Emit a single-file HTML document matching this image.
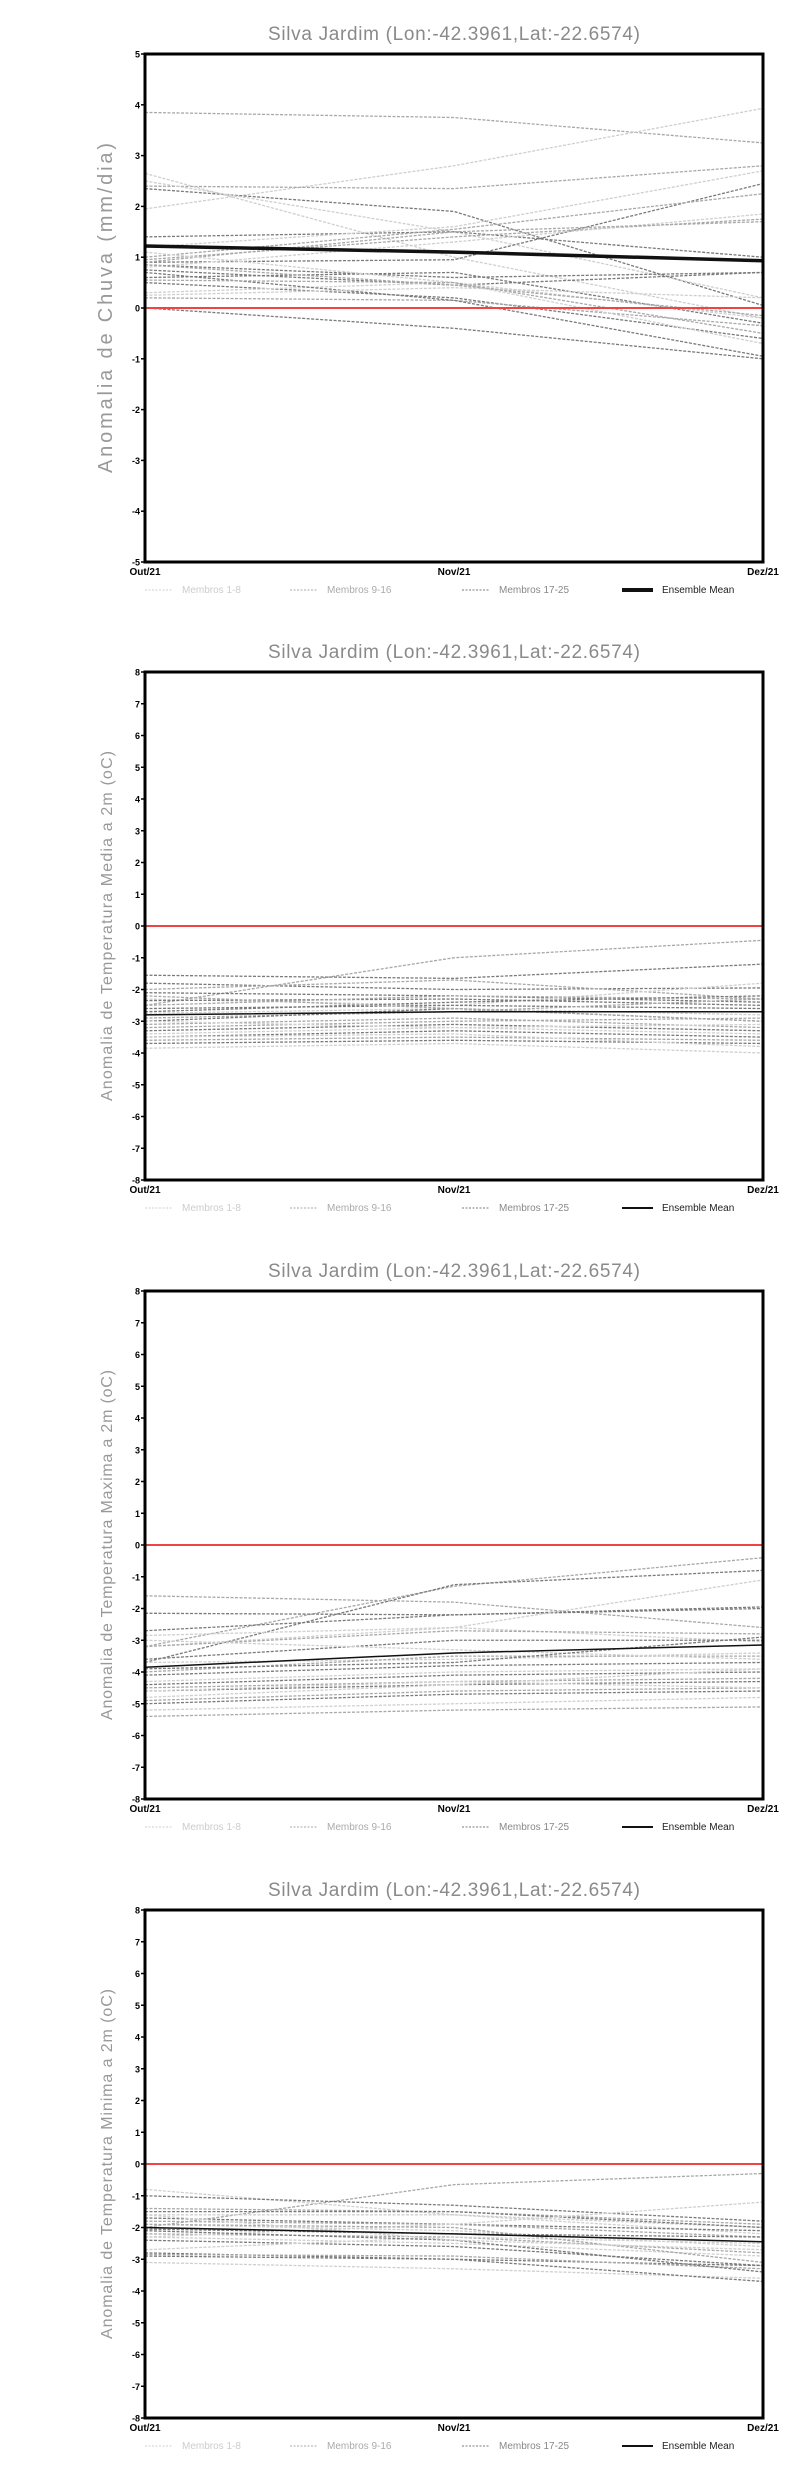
<!DOCTYPE html>
<html><head><meta charset="utf-8"><style>
body{margin:0;background:#fff;}
svg{display:block;}
</style></head><body>
<svg id="s" width="800" height="2472" xmlns="http://www.w3.org/2000/svg" font-family="Liberation Sans, sans-serif"></svg>
<script>
const L='#cfcfcf',M='#a8a8a8',D='#7a7a7a';
const panels=[
{top:54,min:-5,max:5,lab:'Anomalia de Chuva (mm/dia)',ll:330,fs:20,mw:3.5,mean:[1.22,1.1,0.93],m:[
[3.85,3.75,3.25,M],[1.95,2.8,3.93,L],[2.4,2.35,2.8,M],[2.35,1.9,0.05,D],[2.65,1.0,-0.2,L],[2.5,1.5,0.2,L],
[1.4,1.5,1.0,D],[0.9,0.95,2.45,D],[1.2,1.6,2.7,L],[1.0,1.55,2.25,M],[0.95,1.4,1.75,M],[0.8,1.3,1.85,L],
[0.9,1.5,1.7,M],[0.85,0.6,0.7,D],[0.75,0.45,0.7,D],[0.6,0.7,-0.3,D],[0.5,0.2,-0.6,D],[0.3,0.5,-0.2,L],
[0.2,0.15,-0.35,M],[0.0,-0.4,-1.0,D],[1.1,0.5,-0.7,L],[0.85,0.45,-0.15,M],[0.7,0.15,-0.95,D],[0.25,0.4,0.2,L],[0.55,0.5,-0.5,M]]},
{top:672,min:-8,max:8,lab:'Anomalia de Temperatura Media a 2m (oC)',ll:350,fs:16,mw:1.5,mean:[-2.8,-2.7,-2.7],m:[
[-2.5,-1.0,-0.45,M],[-1.55,-1.65,-1.2,D],[-1.8,-2.0,-1.95,D],[-2.0,-1.7,-2.3,M],[-2.1,-2.2,-2.4,D],[-2.3,-2.5,-1.8,L],
[-2.35,-2.3,-2.5,D],[-2.5,-2.2,-2.3,M],[-2.6,-2.5,-2.6,D],[-2.75,-2.6,-2.8,L],[-2.9,-2.7,-2.3,M],[-3.0,-2.6,-3.0,D],
[-3.1,-2.9,-3.2,M],[-3.3,-3.1,-3.3,D],[-3.4,-3.2,-3.1,L],[-3.5,-3.3,-3.5,D],[-3.6,-3.5,-3.6,M],[-3.7,-3.6,-3.7,D],
[-3.85,-3.7,-4.0,L],[-3.2,-3.0,-2.9,M],[-2.7,-2.4,-2.2,D],[-3.0,-3.2,-3.4,L],[-2.2,-2.6,-3.0,M],[-3.5,-3.4,-3.8,L]]},
{top:1291,min:-8,max:8,lab:'Anomalia de Temperatura Maxima a 2m (oC)',ll:350,fs:16,mw:1.5,mean:[-3.85,-3.4,-3.15],m:[
[-3.2,-1.3,-0.4,M],[-3.7,-1.25,-0.8,D],[-1.6,-1.8,-2.6,M],[-2.15,-2.2,-2.0,D],[-2.7,-2.2,-1.95,D],[-2.85,-2.6,-3.05,L],
[-3.2,-2.6,-1.1,L],[-3.2,-2.7,-2.8,M],[-3.6,-3.0,-3.0,D],[-3.7,-3.6,-3.4,L],[-4.0,-3.5,-3.5,M],[-4.1,-3.8,-3.7,D],
[-4.3,-4.0,-3.9,L],[-4.4,-4.1,-4.0,D],[-4.5,-4.3,-4.2,M],[-4.6,-4.4,-4.3,D],[-4.8,-4.4,-3.9,L],[-4.9,-4.6,-4.5,M],
[-5.0,-4.7,-4.6,D],[-5.2,-5.0,-4.8,L],[-5.4,-5.2,-5.1,M],[-3.0,-3.3,-3.6,L],[-3.9,-3.7,-2.9,D],[-4.6,-4.3,-4.5,L]]},
{top:1910,min:-8,max:8,lab:'Anomalia de Temperatura Minima a 2m (oC)',ll:350,fs:16,mw:1.5,mean:[-2.0,-2.2,-2.45],m:[
[-2.0,-0.65,-0.3,M],[-0.8,-1.6,-2.0,L],[-1.0,-1.3,-1.8,D],[-1.4,-1.5,-1.9,M],[-1.5,-1.5,-2.0,D],[-1.6,-1.6,-2.2,L],
[-1.7,-1.9,-2.1,D],[-1.8,-1.9,-2.3,M],[-1.9,-2.1,-2.6,L],[-2.05,-2.2,-2.3,D],[-2.2,-2.3,-2.8,M],[-2.3,-2.5,-2.9,L],
[-2.4,-2.6,-3.2,D],[-2.7,-2.3,-2.5,L],[-2.8,-3.0,-3.2,D],[-2.85,-2.9,-3.3,M],[-3.1,-3.3,-3.6,L],[-2.9,-3.0,-3.7,D],
[-2.3,-1.9,-1.2,L],[-1.9,-2.0,-3.1,M],[-2.1,-2.4,-3.4,D],[-1.6,-2.4,-2.7,L]]}
];
const X0=145,X1=763,H=508;
let o='';
for(const p of panels){
 const t=p.top,b=t+H,xs=[X0,(X0+X1)/2,X1];
 const Y=v=>t+(p.max-v)/(p.max-p.min)*H;
 o+=`<text x="454" y="${t-14}" text-anchor="middle" font-size="19" fill="#8a8a8a" textLength="372" lengthAdjust="spacing">Silva Jardim (Lon:-42.3961,Lat:-22.6574)</text>`;
 o+=`<text transform="translate(112,${t+H/2}) rotate(-90)" text-anchor="middle" font-size="${p.fs}" fill="#999" textLength="${p.ll}" lengthAdjust="spacing">${p.lab}</text>`;
 for(let v=p.min;v<=p.max;v++){const y=Y(v);o+=`<line x1="141" x2="145" y1="${y}" y2="${y}" stroke="#000" stroke-width="1.5"/><text x="140" y="${y+3.5}" text-anchor="end" font-size="9" font-weight="bold">${v}</text>`;}
 for(const m of p.m){o+=`<polyline points="${xs.map((x,i)=>x+','+Y(m[i])).join(' ')}" fill="none" stroke="${m[3]}" stroke-width="1.3" stroke-dasharray="3,1.5"/>`;}
 o+=`<line x1="${X0}" x2="${X1}" y1="${Y(0)}" y2="${Y(0)}" stroke="#ee4444" stroke-width="2"/>`;
 o+=`<polyline points="${xs.map((x,i)=>x+','+Y(p.mean[i])).join(' ')}" fill="none" stroke="#111" stroke-width="${p.mw}"/>`;
 o+=`<rect x="${X0}" y="${t}" width="${X1-X0}" height="${H}" fill="none" stroke="#000" stroke-width="3"/>`;
 ['Out/21','Nov/21','Dez/21'].forEach((s,i)=>{o+=`<text x="${xs[i]}" y="${b+13}" text-anchor="middle" font-size="10" font-weight="bold">${s}</text>`;});
 const ly=b+31;
 o+=`<line x1="145" x2="172" y1="${ly-3}" y2="${ly-3}" stroke="${L}" stroke-dasharray="2,1.5"/><text x="182" y="${ly}" font-size="10" fill="#ccc">Membros 1-8</text>`;
 o+=`<line x1="290" x2="317" y1="${ly-3}" y2="${ly-3}" stroke="${M}" stroke-dasharray="2,1.5"/><text x="327" y="${ly}" font-size="10" fill="#aaa">Membros 9-16</text>`;
 o+=`<line x1="462" x2="489" y1="${ly-3}" y2="${ly-3}" stroke="${D}" stroke-dasharray="2,1.5"/><text x="499" y="${ly}" font-size="10" fill="#888">Membros 17-25</text>`;
 o+=`<line x1="622" x2="653" y1="${ly-3}" y2="${ly-3}" stroke="#111" stroke-width="${p.mw+0.5}"/><text x="662" y="${ly}" font-size="10" fill="#222">Ensemble Mean</text>`;
}
document.getElementById('s').innerHTML=o;
</script>
</body></html>
